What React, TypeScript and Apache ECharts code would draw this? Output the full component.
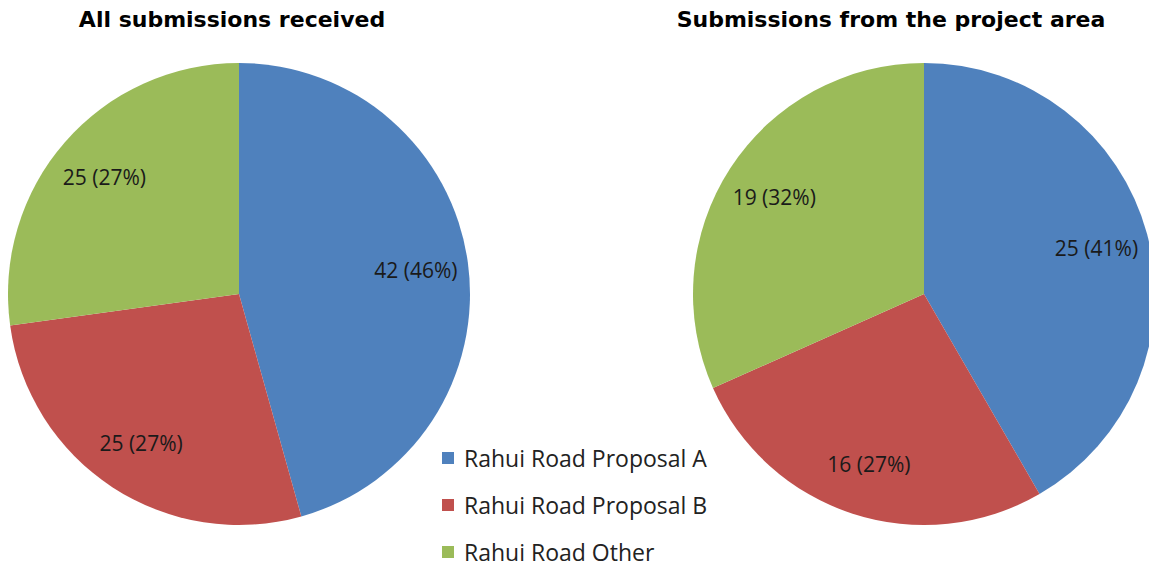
import React, { useEffect, useRef } from "react";
import * as echarts from "echarts";

const categories = ["Rahui Road Proposal A", "Rahui Road Proposal B", "Rahui Road Other"];
const colors = ["#4F81BD", "#C0504D", "#9BBB59"];
const allValues = [42, 25, 25];
const allPercents = [46, 27, 27];
const projectValues = [25, 16, 19];
const projectPercents = [41, 27, 32];
const titles = ["All submissions received", "Submissions from the project area"];

const FONT = "'Open Sans', 'DejaVu Sans', sans-serif";
const R = 231;

function pieSeries(values: number[], percents: number[], center: [number, number]) {
  const data = values.map((v, i) => ({
    name: categories[i],
    value: v,
    itemStyle: { color: colors[i] },
  }));
  const labelData = values.map((v, i) => ({
    name: categories[i],
    value: v,
    pct: percents[i],
  }));
  return [
    {
      type: "pie",
      center,
      radius: [0, R],
      startAngle: 90,
      clockwise: true,
      data,
      label: { show: false },
      labelLine: { show: false },
      silent: true,
    },
    {
      type: "pie",
      center,
      radius: [R * 0.52, R],
      startAngle: 90,
      clockwise: true,
      data: labelData,
      itemStyle: { color: "rgba(0,0,0,0)" },
      label: {
        show: true,
        position: "inside",
        fontFamily: FONT,
        fontSize: 21,
        color: "#1a1a1a",
        formatter: (p: any) => `${p.value} (${p.data.pct}%)`,
      },
      labelLine: { show: false },
      silent: true,
      legendHoverLink: false,
    },
  ];
}

export default function App() {
  const ref = useRef<HTMLDivElement>(null);
  useEffect(() => {
    if (!ref.current) return;
    const chart = echarts.init(ref.current, null, { renderer: "svg" });
    const titleStyle = {
      fontFamily: "'DejaVu Sans', sans-serif",
      fontWeight: "bold",
      fontSize: 22,
      color: "#000",
    };
    chart.setOption({
      animation: false,
      backgroundColor: "#ffffff",
      title: [
        { text: titles[0], left: 227, top: 3, textAlign: "center", textStyle: titleStyle },
        { text: titles[1], left: 886, top: 3, textAlign: "center", textStyle: titleStyle },
      ],
      legend: {
        orient: "vertical",
        left: 442,
        top: 446,
        padding: 0,
        itemWidth: 12,
        itemHeight: 12,
        itemGap: 23,
        icon: "rect",
        selectedMode: false,
        data: categories.map((c, i) => ({ name: c, itemStyle: { color: colors[i] } })),
        textStyle: {
          fontFamily: FONT,
          fontSize: 23,
          color: "#222",
          lineHeight: 24,
          padding: [0, 0, 0, 5],
        },
      },
      series: [
        ...pieSeries(allValues, allPercents, [239, 294]),
        ...pieSeries(projectValues, projectPercents, [924, 294]),
      ],
    });
    return () => chart.dispose();
  }, []);
  return (
    <div
      ref={ref}
      style={{ position: "fixed", left: 0, top: 0, width: 1149, height: 569 }}
    />
  );
}
